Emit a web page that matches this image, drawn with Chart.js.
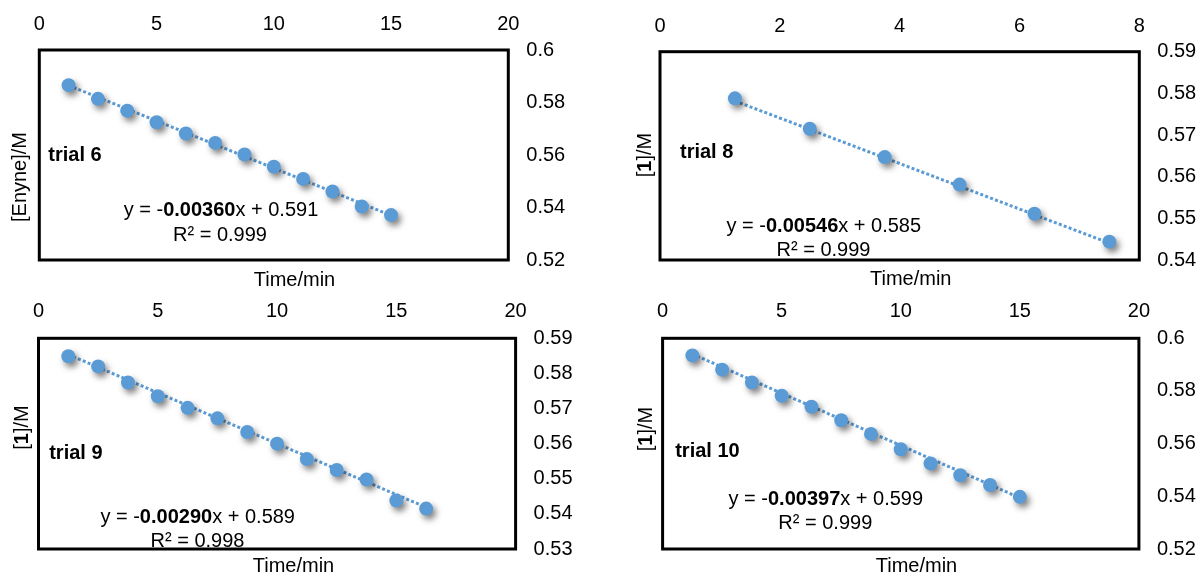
<!DOCTYPE html>
<html>
<head>
<meta charset="utf-8">
<script src="https://cdn.jsdelivr.net/npm/chart.js@4.4.1/dist/chart.umd.min.js"></script>
<style>
  html, body { margin: 0; padding: 0; background: #ffffff; }
  body { width: 1201px; height: 579px; position: relative; overflow: hidden; }
  canvas { position: absolute; display: block; }
</style>
</head>
<body>
<canvas id="c6" width="600" height="290" style="left:0;top:0"></canvas>
<canvas id="c8" width="601" height="290" style="left:600px;top:0"></canvas>
<canvas id="c9" width="600" height="289" style="left:0;top:290px"></canvas>
<canvas id="c10" width="601" height="289" style="left:600px;top:290px"></canvas>
<script>
// ---------------- data ----------------
const time6  = [1.25, 2.5, 3.75, 5, 6.25, 7.5, 8.75, 10, 11.25, 12.5, 13.75, 15];
const conc6  = [0.5866, 0.5814, 0.5769, 0.5725, 0.5682, 0.5646, 0.5602, 0.5555, 0.5509, 0.5461, 0.5404, 0.5371];
const time8  = [1.25, 2.5, 3.75, 5, 6.25, 7.5];
const conc8  = [0.5788, 0.5715, 0.5647, 0.5581, 0.5511, 0.5444];
const time9  = [1.25, 2.5, 3.75, 5, 6.25, 7.5, 8.75, 10, 11.25, 12.5, 13.75, 15, 16.25];
const conc9  = [0.5849, 0.5820, 0.5774, 0.5735, 0.5702, 0.5672, 0.5633, 0.5600, 0.5556, 0.5525, 0.5498, 0.5438, 0.5415];
const time10 = [1.25, 2.5, 3.75, 5, 6.25, 7.5, 8.75, 10, 11.25, 12.5, 13.75, 15];
const conc10 = [0.5935, 0.5881, 0.5832, 0.5782, 0.5740, 0.5689, 0.5637, 0.5579, 0.5525, 0.5480, 0.5443, 0.5398];

// trendline equations shown on the chart
const slopes     = [-0.00360, -0.00546, -0.00290, -0.00397];
const intercepts = [0.591, 0.585, 0.589, 0.599];
const slopeText  = ['0.00360', '0.00546', '0.00290', '0.00397'];
const interText  = ['0.591', '0.585', '0.589', '0.599'];
const r2Text     = ['0.999', '0.999', '0.998', '0.999'];
const trialNames = ['trial 6', 'trial 8', 'trial 9', 'trial 10'];

// tick labels
const xTicks6  = [0, 5, 10, 15, 20];
const xTicks8  = [0, 2, 4, 6, 8];
const xTicks9  = [0, 5, 10, 15, 20];
const xTicks10 = [0, 5, 10, 15, 20];
const yTicks6  = ['0.52', '0.54', '0.56', '0.58', '0.6'];
const yTicks8  = ['0.54', '0.55', '0.56', '0.57', '0.58', '0.59'];
const yTicks9  = ['0.53', '0.54', '0.55', '0.56', '0.57', '0.58', '0.59'];
const yTicks10 = ['0.52', '0.54', '0.56', '0.58', '0.6'];

// ---------------- styling / layout ----------------
const FONT = '"Liberation Sans", Arial, Helvetica, sans-serif';
const FS = 20;
const BLUE = '#5B9BD5';

const shadowPlugin = {
  id: 'pointShadow',
  beforeDatasetDraw(chart, args) {
    const ds = chart.data.datasets[args.index];
    if (ds._shadow) {
      const ctx = chart.ctx;
      ctx.save();
      ctx.shadowColor = 'rgba(0,0,0,0.5)';
      ctx.shadowBlur = 6;
      ctx.shadowOffsetX = 3;
      ctx.shadowOffsetY = 4;
    }
  },
  afterDatasetDraw(chart, args) {
    const ds = chart.data.datasets[args.index];
    if (ds._shadow) chart.ctx.restore();
  }
};

function drawParts(ctx, parts, cx, cy) {
  let total = 0;
  parts.forEach(p => {
    ctx.font = (p.b ? 'bold ' : '') + FS + 'px ' + FONT;
    p.w = ctx.measureText(p.t).width;
    total += p.w;
  });
  let x = cx - total / 2;
  ctx.textAlign = 'left';
  ctx.textBaseline = 'middle';
  parts.forEach(p => {
    ctx.font = (p.b ? 'bold ' : '') + FS + 'px ' + FONT;
    ctx.fillText(p.t, x, cy);
    x += p.w;
  });
}

const annotPlugin = {
  id: 'annot',
  afterDatasetsDraw(chart) {
    const a = chart.options.plugins.annot;
    const ctx = chart.ctx;
    const ca = chart.chartArea;
    ctx.save();
    // frame
    ctx.strokeStyle = '#000';
    ctx.lineWidth = 3;
    ctx.strokeRect(ca.left, ca.top, ca.right - ca.left, ca.bottom - ca.top);
    ctx.fillStyle = '#000';
    // trial label
    ctx.font = 'bold ' + FS + 'px ' + FONT;
    ctx.textAlign = 'left';
    ctx.textBaseline = 'middle';
    ctx.fillText(a.trial, a.trialX, a.trialY);
    // equation
    drawParts(ctx, [{t: 'y = -', b: false}, {t: a.slope, b: true}, {t: 'x + ' + a.inter, b: false}], a.eqX, a.eqY);
    drawParts(ctx, [{t: 'R² = ' + a.r2, b: false}], a.r2X, a.r2Y);
    // x title
    drawParts(ctx, [{t: 'Time/min', b: false}], a.xtX, a.xtY);
    // y title (rotated)
    ctx.save();
    ctx.translate(a.ytX, a.ytY);
    ctx.rotate(-Math.PI / 2);
    drawParts(ctx, a.ytParts, 0, 0);
    ctx.restore();
    ctx.restore();
  }
};

function makeChart(id, idx, time, conc, xTicks, yTicks, lay) {
  const canvas = document.getElementById(id);
  const W = canvas.width, H = canvas.height;
  const xMin = xTicks[0], xMax = xTicks[xTicks.length - 1];
  const yVals = yTicks.map(Number);
  const yMin = yVals[0], yMax = yVals[yVals.length - 1];
  const t0 = time[0], t1 = time[time.length - 1];
  const trend = [
    {x: t0, y: slopes[idx] * t0 + intercepts[idx]},
    {x: t1, y: slopes[idx] * t1 + intercepts[idx]}
  ];
  return new Chart(canvas, {
    type: 'scatter',
    data: {
      datasets: [
        {
          data: time.map((t, i) => ({x: t, y: conc[i]})),
          backgroundColor: BLUE,
          borderColor: BLUE,
          borderWidth: 0,
          pointRadius: 7,
          pointHoverRadius: 7,
          showLine: false,
          _shadow: true,
          order: 0,
          clip: false
        },
        {
          data: trend,
          showLine: true,
          borderColor: BLUE,
          borderWidth: 3,
          borderDash: [3, 2.25],
          pointRadius: 0,
          fill: false,
          order: 1
        }
      ]
    },
    options: {
      responsive: false,
      animation: false,
      devicePixelRatio: 1,
      events: [],
      layout: { padding: { left: lay.L, right: 0, top: 0, bottom: H - lay.B } },
      plugins: {
        legend: { display: false },
        tooltip: { enabled: false },
        annot: lay.annot
      },
      scales: {
        x: {
          type: 'linear',
          position: 'top',
          min: xMin, max: xMax,
          afterBuildTicks: s => { s.ticks = xTicks.map(v => ({value: v})); },
          afterFit: s => { s.height = lay.T; },
          ticks: {
            font: { family: FONT, size: FS },
            color: '#000',
            padding: lay.xPad,
            maxRotation: 0,
            autoSkip: false,
            callback: v => String(v)
          },
          grid: { display: false, drawTicks: false },
          border: { display: false }
        },
        y: {
          type: 'linear',
          position: 'right',
          min: yMin, max: yMax,
          afterBuildTicks: s => { s.ticks = yVals.map(v => ({value: v})); },
          afterFit: s => { s.width = W - lay.R; },
          ticks: {
            font: { family: FONT, size: FS },
            color: '#000',
            padding: 18,
            autoSkip: false,
            callback: (v, i) => yTicks[i]
          },
          grid: { display: false, drawTicks: false },
          border: { display: false }
        }
      }
    },
    plugins: [shadowPlugin, annotPlugin]
  });
}

function annot(i, o) {
  return Object.assign({
    trial: trialNames[i], slope: slopeText[i], inter: interText[i], r2: r2Text[i]
  }, o);
}

makeChart('c6', 0, time6, conc6, xTicks6, yTicks6, {
  L: 39.3, R: 508.3, T: 50, B: 265, xPad: 14,
  annot: annot(0, {
    trialX: 48.3, trialY: 155, eqX: 221, eqY: 210.7, r2X: 220, r2Y: 235,
    xtX: 294.5, xtY: 280, ytX: 20, ytY: 177,
    ytParts: [{t: '[Enyne]/M', b: false}]
  })
});
makeChart('c8', 1, time8, conc8, xTicks8, yTicks8, {
  L: 60, R: 539.3, T: 51.7, B: 266.7, xPad: 13.7,
  annot: annot(1, {
    trialX: 80, trialY: 152.7, eqX: 223.8, eqY: 226.7, r2X: 223.5, r2Y: 250.7,
    xtX: 310.7, xtY: 279, ytX: 45, ytY: 155,
    ytParts: [{t: '[', b: false}, {t: '1', b: true}, {t: ']/M', b: false}]
  })
});
makeChart('c9', 2, time9, conc9, xTicks9, yTicks9, {
  L: 38.5, R: 515.6, T: 48.3, B: 265.7, xPad: 14.6,
  annot: annot(2, {
    trialX: 49.2, trialY: 163.3, eqX: 197.7, eqY: 227.3, r2X: 197.5, r2Y: 251.7,
    xtX: 293.5, xtY: 276.7, ytX: 22, ytY: 137.5,
    ytParts: [{t: '[', b: false}, {t: '1', b: true}, {t: ']/M', b: false}]
  })
});
makeChart('c10', 3, time10, conc10, xTicks10, yTicks10, {
  L: 62.6, R: 538.9, T: 48.3, B: 265.7, xPad: 14.6,
  annot: annot(3, {
    trialX: 75.2, trialY: 161, eqX: 225.8, eqY: 209.3, r2X: 225.3, r2Y: 233.3,
    xtX: 316.5, xtY: 276.7, ytX: 46.6, ytY: 139,
    ytParts: [{t: '[', b: false}, {t: '1', b: true}, {t: ']/M', b: false}]
  })
});
</script>
</body>
</html>
